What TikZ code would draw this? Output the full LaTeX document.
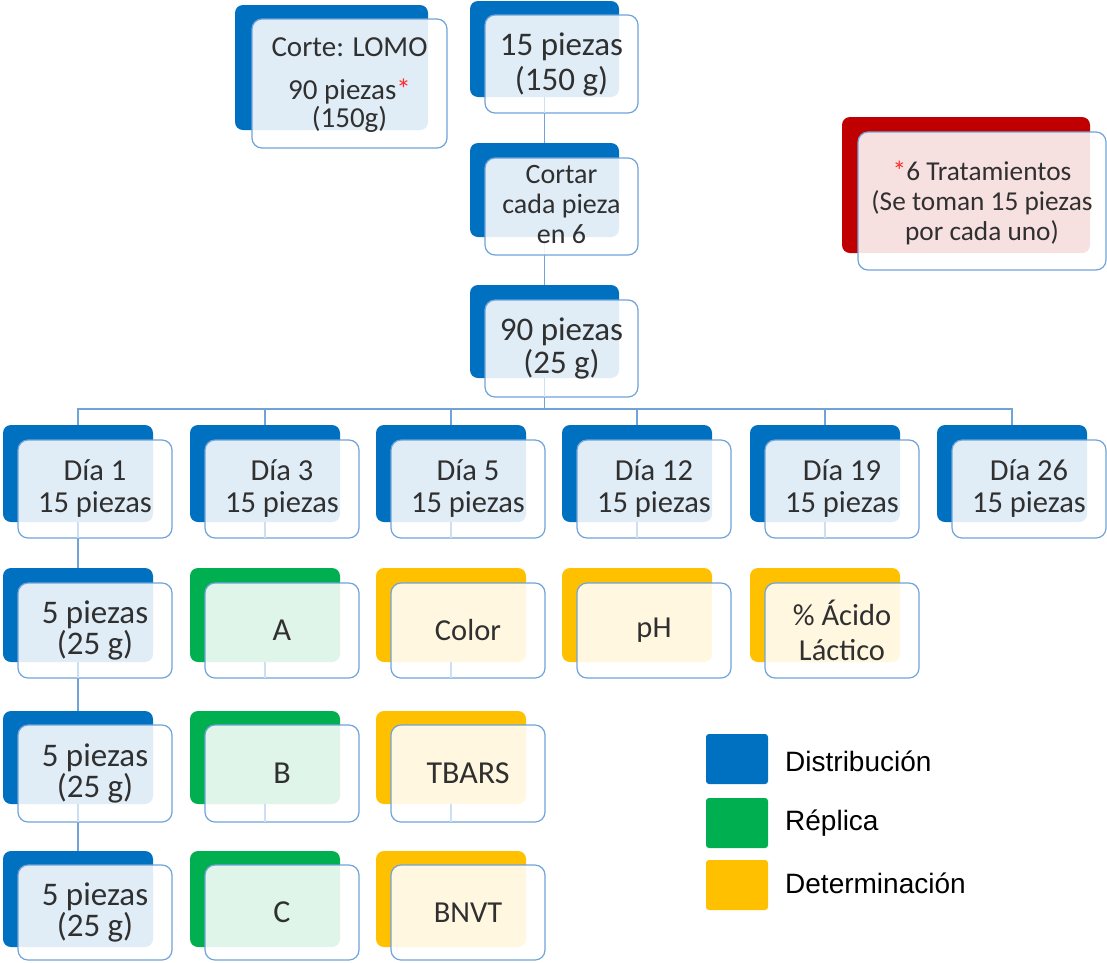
\documentclass[tikz,border=0pt]{standalone}
\usepackage{fontspec}
\setmainfont{Carlito}
\newfontfamily\legfont{Liberation Sans}
\usetikzlibrary{fit}
\pgfdeclarelayer{bg}
\pgfsetlayers{bg,main}
\definecolor{cblue}{HTML}{0070C0}
\definecolor{cgreen}{HTML}{00B050}
\definecolor{cyellow}{HTML}{FFC000}
\definecolor{cred}{HTML}{C00000}
\definecolor{lineb}{HTML}{6FA3DA}
\definecolor{txt}{HTML}{303030}
\definecolor{ast}{HTML}{FF2A2A}
% name, colour, left x, back top, back bottom, front top, front bottom, font, text
\newcommand\cellbox[9]{%
  \node[back=#2, fit={(#3,#4)(#3+150,#5)}] (#1b) {};
  \node[front, fit={(#3+15,#6)(#3+169,#7)}] (#1f) {};
  \node[boxtext, font=#8] (#1t) at (#1f.center) {#9};}
\newcommand\fs[2]{\fontsize{#1}{#2}\selectfont}
\begin{document}
\begin{tikzpicture}[x=1pt,y=-1pt,
  back/.style={fill=#1, draw=none, rounded corners=8pt, inner sep=0pt, outer sep=0pt},
  front/.style={fill=white, fill opacity=0.88, draw=lineb, line width=1.2pt,
    rounded corners=10pt, inner sep=0pt, outer sep=0pt},
  boxtext/.style={inner sep=0pt, align=center, text=txt},
  conn/.style={draw=lineb, line width=1.6pt},
  faint/.style={draw=lineb!35, line width=1.3pt},
  legsq/.style={fill=#1, draw=none, rounded corners=3pt, inner sep=0pt},
  legtext/.style={anchor=west, inner sep=0pt, font=\legfont\fs{28}{32}, text=black}]
\begin{pgfonlayer}{bg}
\fill[white] (0,0) rectangle (1107,962);
\end{pgfonlayer}
\useasboundingbox (0,0) rectangle (1107,962);
\coordinate (busy) at (0,409);

% top boxes
\node[back=cblue, fit={(235,5)(428,130)}] (corteb) {};
\node[front, fit={(252,19)(447,148)}] (cortef) {};
\node[boxtext, font=\fs{29}{32}] (cortet) at ([yshift=-2pt]cortef.center)
  {Corte: LOMO\\[11pt]90 piezas{\color{ast}*}\\[-4pt](150g)};
\node[back=cblue, fit={(470,1)(619,97)}] (p15b) {};
\node[front, fit={(485,15)(638,113)}] (p15f) {};
\node[boxtext, font=\fs{33}{35}] (p15t) at (p15f.center) {15 piezas\\(150 g)};
\node[back=cblue, fit={(470,143)(619,237)}] (cortb) {};
\node[front, fit={(485,158)(638,255)}] (cortf) {};
\node[boxtext, font=\fs{28}{30}] (cortt) at ([yshift=2pt]cortf.center) {Cortar\\cada pieza\\en 6};
\node[back=cblue, fit={(470,285)(619,378)}] (p90b) {};
\node[front, fit={(485,300)(638,397)}] (p90f) {};
\node[boxtext, font=\fs{33}{33}] (p90t) at (p90f.center) {90 piezas\\(25 g)};
\node[back=cred, fit={(842,117)(1090,253)}] (tratb) {};
\node[front, fit={(858,132)(1106,270)}] (tratf) {};
\node[boxtext, font=\fs{27.3}{30}] (tratt) at ([yshift=-2pt]tratf.center)
  {{\color{ast}*}6 Tratamientos\\(Se toman 15 piezas\\por cada uno)};

% day row
\cellbox{da}{cblue}{3}{425}{522}{440}{538}{\fs{30.5}{32}}{Día 1\\15 piezas}
\cellbox{db}{cblue}{190}{425}{522}{440}{538}{\fs{30.5}{32}}{Día 3\\15 piezas}
\cellbox{dc}{cblue}{376}{425}{522}{440}{538}{\fs{30.5}{32}}{Día 5\\15 piezas}
\cellbox{dd}{cblue}{562}{425}{522}{440}{538}{\fs{30.5}{32}}{Día 12\\15 piezas}
\cellbox{de}{cblue}{750}{425}{522}{440}{538}{\fs{30.5}{32}}{Día 19\\15 piezas}
\cellbox{df}{cblue}{937}{425}{522}{440}{538}{\fs{30.5}{32}}{Día 26\\15 piezas}
% row 2
\cellbox{ra}{cblue}{3}{568}{662}{583}{678}{\fs{33}{31}}{5 piezas\\(25 g)}
\cellbox{rb}{cgreen}{190}{568}{662}{583}{678}{\fs{32}{32}}{A}
\cellbox{rc}{cyellow}{376}{568}{662}{583}{678}{\fs{30.5}{32}}{Color}
\cellbox{rd}{cyellow}{562}{568}{662}{583}{678}{\fs{30.5}{32}}{pH}
\cellbox{re}{cyellow}{750}{568}{662}{583}{678}{\fs{30.5}{35}}{\% Ácido\\Láctico}
% row 3
\cellbox{sa}{cblue}{3}{711}{804}{725}{822}{\fs{33}{31}}{5 piezas\\(25 g)}
\cellbox{sb}{cgreen}{190}{711}{804}{725}{822}{\fs{32}{32}}{B}
\cellbox{sc}{cyellow}{376}{711}{804}{725}{822}{\fs{32}{32}}{TBARS}
% row 4
\cellbox{ta}{cblue}{3}{851}{947}{865}{960}{\fs{33}{31}}{5 piezas\\(25 g)}
\cellbox{tb}{cgreen}{190}{851}{947}{865}{960}{\fs{32}{32}}{C}
\cellbox{tc}{cyellow}{376}{851}{947}{865}{960}{\fs{30.5}{32}}{BNVT}

% connectors (behind the boxes)
\begin{pgfonlayer}{bg}
\draw[conn] (p15b.south) -- (cortb.north);
\draw[conn] (cortb.south) -- (p90b.north);
\foreach \d in {da,db,dc,dd,de,df}
  \draw[conn] (p90b.south) -- (p90b.south |- busy) -| (\d b.north);
\draw[conn] (dab.south) -- (rab.north);
\draw[conn] (rab.south) -- (sab.north);
\draw[conn] (sab.south) -- (tab.north);
\end{pgfonlayer}

% faint traces of connectors seen through the front boxes
\foreach \n in {p15,p90,da,ra,sa,db,rb,sb,dc,rc,sc,dd,de}
  \draw[faint] (\n b.south) -- (\n b.south |- \n f.south);

% legend
\node[legsq=cblue, fit={(706,734)(768,784)}] (lga) {};
\node[legsq=cgreen, fit={(706,798)(768,848)}] (lgb) {};
\node[legsq=cyellow, fit={(706,860)(768,910)}] (lgc) {};
\node[legtext] (lta) at (785,761) {Distribución};
\node[legtext] (ltb) at (785,823) {Réplica};
\node[legtext] (ltc) at (785,883) {Determinación};
\end{tikzpicture}
\end{document}
